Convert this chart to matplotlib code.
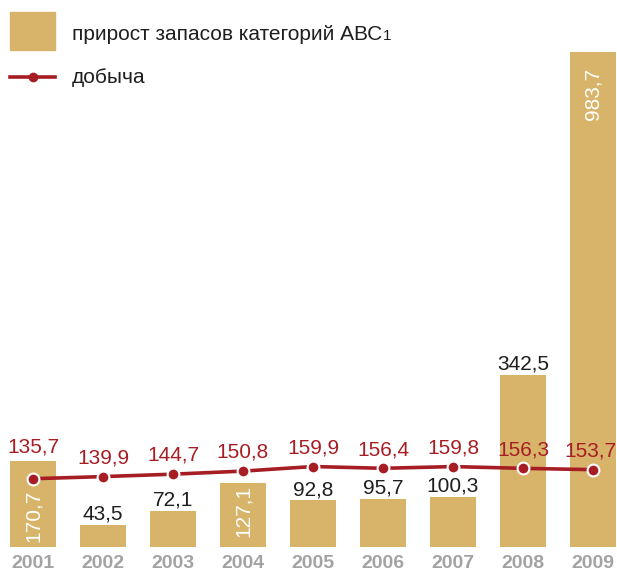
import matplotlib
matplotlib.use("Agg")
import matplotlib.pyplot as plt
from matplotlib.patches import Rectangle
from matplotlib.lines import Line2D

plt.rcParams["font.family"] = ["Liberation Sans", "DejaVu Sans"]

years = ["2001", "2002", "2003", "2004", "2005", "2006", "2007", "2008", "2009"]
reserves = [170.7, 43.5, 72.1, 127.1, 92.8, 95.7, 100.3, 342.5, 983.7]
production = [135.7, 139.9, 144.7, 150.8, 159.9, 156.4, 159.8, 156.3, 153.7]

bar_color = "#d7b46a"
line_color = "#a61e24"
text_color = "#1e1e1e"

# where the bar label sits inside the bar (fraction of height), None -> above the bar
inside_pos = [0.36, None, None, 0.56, None, None, None, None, 0.915]
# extra shift for the red labels (points)
red_dy = [9.5, 0, 0, 0, 0, 0, 0, 0, 0]
red_dx = [0, 0, 0, 0, 0, 0, 0, 0, -1.5]

def fmt(v):
    return ("%.1f" % v).replace(".", ",")

W, H = 617, 573
fig = plt.figure(figsize=(W / 100, H / 100), dpi=100)
ax = fig.add_axes([0, 26 / H, 1, (H - 26) / H])
x = list(range(len(years)))

ax.bar(x, reserves, width=0.66, color=bar_color, zorder=1)
ax.plot(x, production, color=line_color, lw=2.6, marker="o", ms=8.5,
        mfc=line_color, mec="white", mew=1.5, zorder=3)

for i, v in enumerate(reserves):
    if inside_pos[i] is None:
        ax.annotate(fmt(v), (i, v), xytext=(0, 3.8), textcoords="offset points",
                    ha="center", va="baseline", fontsize=15, color=text_color)
    else:
        ax.text(i, v * inside_pos[i], fmt(v), rotation=90, ha="center", va="center",
                fontsize=15, color="white")

for i, v in enumerate(production):
    ax.annotate(fmt(v), (i, v), xytext=(red_dx[i], 9.5 + red_dy[i]),
                textcoords="offset points", ha="center", va="baseline",
                fontsize=15, color=line_color, zorder=4)

ax.set_xlim(-0.471, 8.343)
ax.set_ylim(0, 1087)
ax.set_xticks(x)
ax.set_xticklabels(years, fontsize=14, fontweight="bold", color="#a3a3a3")
ax.tick_params(axis="x", length=0, pad=5.5)
ax.set_yticks([])
for s in ax.spines.values():
    s.set_visible(False)
ax.patch.set_alpha(0)

# legend drawn by hand
fig.patches.append(Rectangle((10 / W, 1 - 50 / H), 45 / W, 38 / H,
                             transform=fig.transFigure, color=bar_color))
fig.lines.append(Line2D([10 / W, 55 / W], [1 - 77 / H] * 2, transform=fig.transFigure,
                        color=line_color, lw=2.6))
fig.lines.append(Line2D([33 / W], [1 - 77 / H], transform=fig.transFigure, marker="o",
                        ms=7, color=line_color, mew=0))
t1 = fig.text(72 / W, 1 - 40 / H, "прирост запасов категорий АВС", fontsize=15,
              va="baseline", color=text_color)
fig.canvas.draw()
bb = t1.get_window_extent()
fig.text((bb.x1 + 1) / W, 1 - 40 / H, "1", fontsize=11, va="baseline", color=text_color)
fig.text(72 / W, 1 - 83 / H, "добыча", fontsize=15, va="baseline", color=text_color)

fig.savefig("out.png", dpi=100)
